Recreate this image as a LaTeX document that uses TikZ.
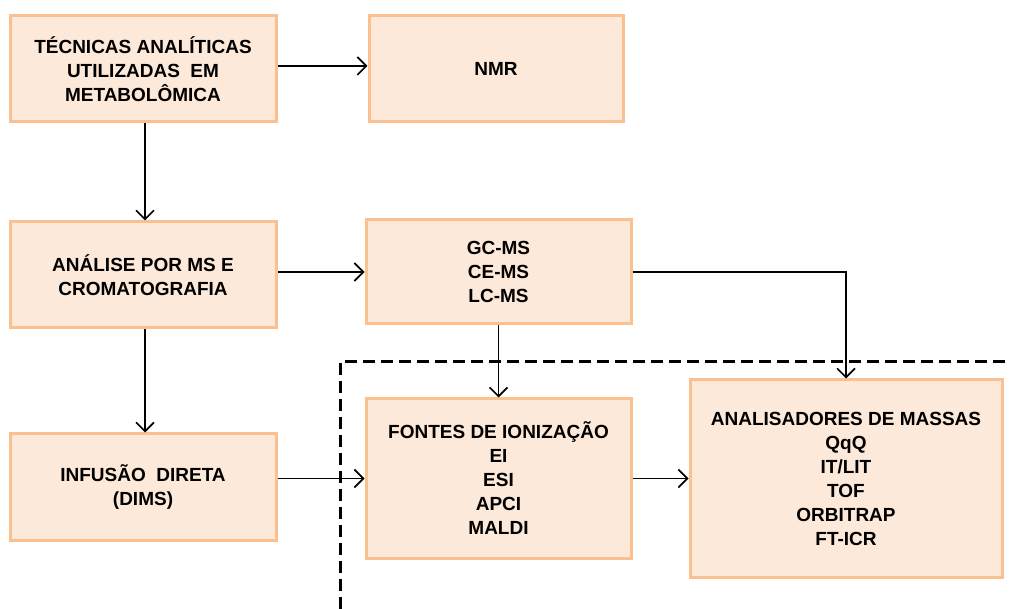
\documentclass[tikz,border=0pt]{standalone}
\usepackage{fontspec}
\setmainfont{Liberation Sans}
\usetikzlibrary{arrows.meta}
\definecolor{boxfill}{HTML}{FDE9D9}
\definecolor{boxline}{HTML}{FAC090}
\tikzset{
  box/.style={draw=boxline, fill=boxfill, line width=3pt, align=center,
    font=\fontsize{19}{24}\selectfont\bfseries, inner sep=0pt},
  conn/.style={line width=1.6pt, -{Straight Barb[length=9pt,width=18pt,line width=1.6pt]}},
  region/.style={line width=3pt, dash pattern=on 12pt off 6pt}
}
\begin{document}
\begin{tikzpicture}[x=1pt,y=-1pt]
\useasboundingbox (0,0) rectangle (1010,609);
\node[box, minimum width=266pt, minimum height=106pt] (tec) at (143,69) {TÉCNICAS ANALÍTICAS\\UTILIZADAS\ \ EM\\METABOLÔMICA};
\node[box, minimum width=254pt, minimum height=106pt] (nmr) at (496,69) {NMR};
\node[box, minimum width=266pt, minimum height=106pt] (ana) at (143,275) {ANÁLISE POR MS E\\CROMATOGRAFIA};
\node[box, minimum width=265pt, minimum height=104pt] (gc) at (498.5,272) {GC-MS\\CE-MS\\LC-MS};
\node[box, minimum width=266pt, minimum height=106pt] (inf) at (143,487) {INFUSÃO\ \ DIRETA\\(DIMS)};
\node[box, minimum width=265pt, minimum height=159pt] (fon) at (498.5,478.5) {FONTES DE IONIZAÇÃO\\EI\\ESI\\APCI\\MALDI};
\node[box, minimum width=312pt, minimum height=197pt] (mas) at (846,478.5) {ANALISADORES DE MASSAS\\QqQ\\IT/LIT\\TOF\\ORBITRAP\\FT-ICR};
\draw[region] (340,609) -- (340,362) -- (1010,362);
\draw[conn] (tec.east |- 0,66) -- (nmr.west |- 0,66);
\draw[conn] (tec.south -| 145,0) -- (ana.north -| 145,0);
\draw[conn] (ana.east |- 0,272) -- (gc.west);
\draw[conn] (ana.south -| 145,0) -- (inf.north -| 145,0);
\draw[conn] (gc.south) -- (fon.north);
\draw[conn] (gc.east) -| (mas.north);
\draw[conn] (inf.east |- 0,478.5) -- (fon.west);
\draw[conn] (fon.east) -- (mas.west);
\end{tikzpicture}
\end{document}
